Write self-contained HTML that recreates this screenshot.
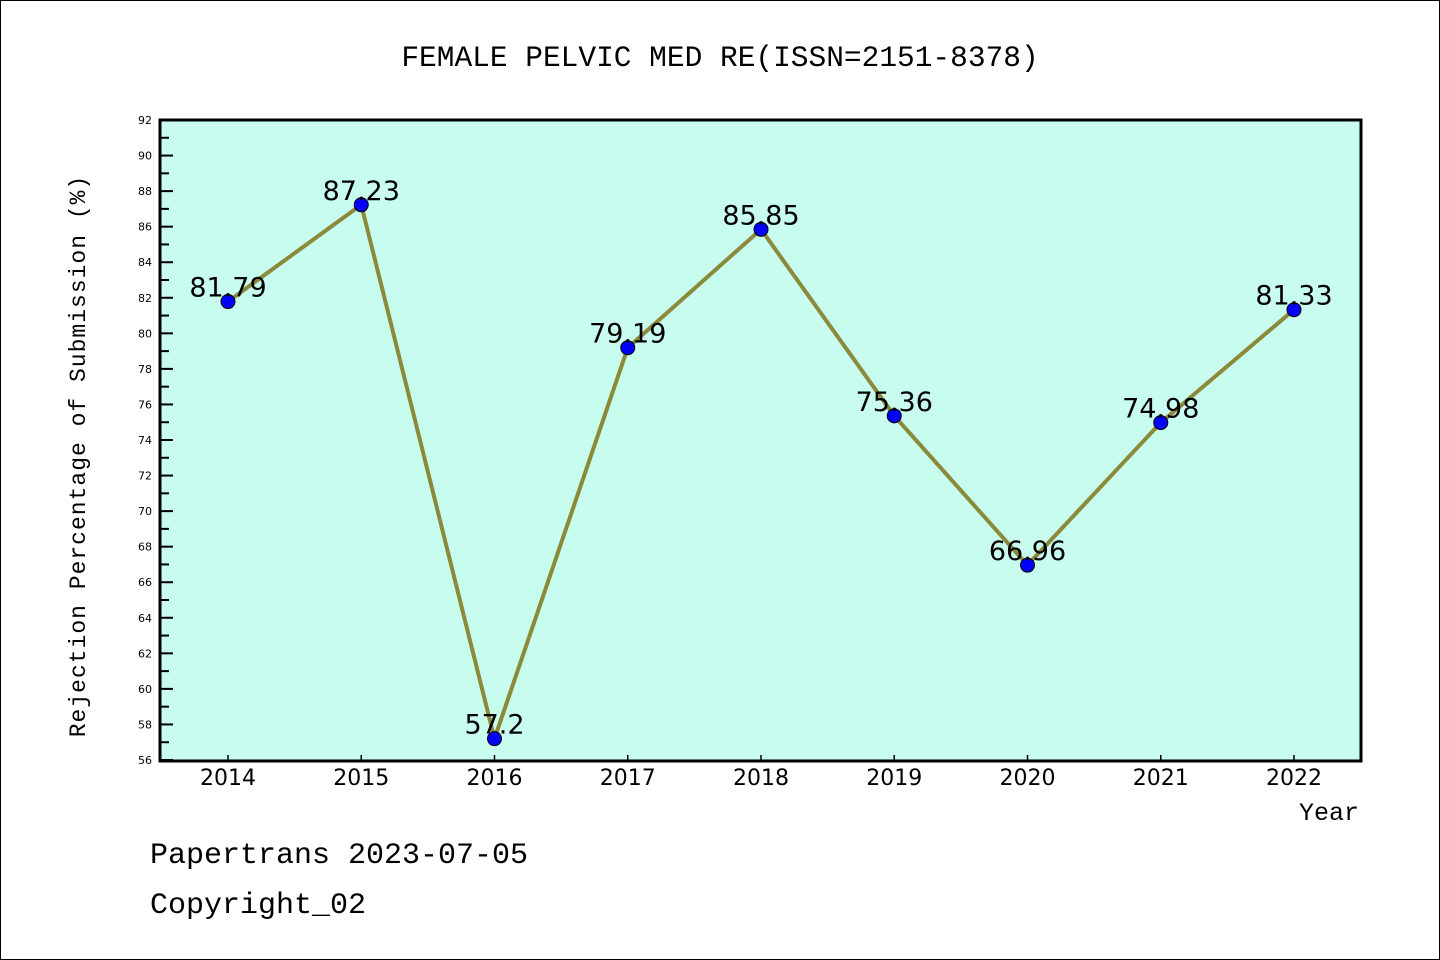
<!DOCTYPE html>
<html><head><meta charset="utf-8"><style>
html,body{margin:0;padding:0;background:#fff;}
svg{display:block;font-family:"Liberation Mono","Noto Sans CJK SC",monospace;}
</style></head><body>
<svg id="chart" width="1440" height="960" viewBox="0 0 1440 960">
<rect x="0.5" y="0.5" width="1439" height="959" fill="#fff" stroke="#000" stroke-width="1"/>
<text x="720" y="66" text-anchor="middle" font-size="29.5">FEMALE PELVIC MED RE(ISSN=2151-8378)</text>
<rect x="160" y="120" width="1201" height="641" fill="#c8fcee"/>
<g id="yaxis"></g>
<g id="xaxis"></g>
<g id="series"></g>
<rect x="160" y="120" width="1201" height="641" fill="none" stroke="#000" stroke-width="3"/>
<text transform="translate(85,456) rotate(-90)" text-anchor="middle" font-size="23" letter-spacing="1">Rejection Percentage of Submission (%)</text>
<text x="1359" y="820" text-anchor="end" font-size="25">Year</text>
<text x="150" y="863" font-size="30">Papertrans 2023-07-05</text>
<text x="150" y="913" font-size="30">Copyright_02</text>
</svg>
<script>
const years = [2014,2015,2016,2017,2018,2019,2020,2021,2022];
const values = [81.79,87.23,57.2,79.19,85.85,75.36,66.96,74.98,81.33];
const valueLabels = ["81.79","87.23","57.2","79.19","85.85","75.36","66.96","74.98","81.33"];
const yTicks = [56,58,60,62,64,66,68,70,72,74,76,78,80,82,84,86,88,90,92];
const NS="http://www.w3.org/2000/svg";
const yMin=56,yMax=92,plotTop=120,plotBottom=760;
function yScale(v){return plotBottom-(v-yMin)/(yMax-yMin)*(plotBottom-plotTop);}
function xScale(i){return 228+i*(1294-228)/(years.length-1);}
function mk(t,a,parent){const e=document.createElementNS(NS,t);for(const k in a)e.setAttribute(k,a[k]);parent.appendChild(e);return e;}
const ya=document.getElementById('yaxis'),xa=document.getElementById('xaxis'),sg=document.getElementById('series');
yTicks.forEach((v,i)=>{
  const y=yScale(v);
  const l=mk('line',{x1:160,x2:173,y1:y,y2:y,stroke:'#000','stroke-width':2},ya);
  
  
  const t=mk('text',{x:152,y:y+4,'text-anchor':'end','font-size':11,'font-family':'"DejaVu Sans",sans-serif'},ya);
  t.textContent=v;
  
  
  if(i<yTicks.length-1){
    const ym=yScale(v+1);
    const m=mk('line',{x1:160,x2:169,y1:ym,y2:ym,stroke:'#000','stroke-width':2},ya);
    
    
  }
});
years.forEach((yr,i)=>{
  const x=xScale(i);
  const l=mk('line',{x1:x,x2:x,y1:760,y2:755,stroke:'#000','stroke-width':1.5},xa);
  
  
  const t=mk('text',{x:x,y:785,'text-anchor':'middle','font-size':22,'font-family':'"DejaVu Sans",sans-serif'},xa);
  t.textContent=yr;
  
  
});
const pts=values.map((v,i)=>xScale(i)+','+yScale(v)).join(' ');
const pl=mk('polyline',{points:pts,fill:'none',stroke:'#8b8a3a','stroke-width':4,'stroke-linejoin':'round'},sg);


values.forEach((v,i)=>{
  const c=mk('circle',{cx:xScale(i),cy:yScale(v),r:7,fill:'#0000ff',stroke:'#000','stroke-width':1},sg);
  
  
  const t=mk('text',{x:xScale(i),y:yScale(v)-5,'text-anchor':'middle','font-size':27,'font-family':'"DejaVu Sans",sans-serif'},sg);
  t.textContent=valueLabels[i];
  
  
});
</script>
</body></html>
